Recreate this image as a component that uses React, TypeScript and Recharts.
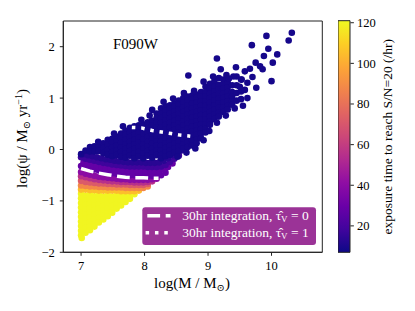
import { ScatterChart, Scatter, XAxis, YAxis, ReferenceArea, BarChart, Bar } from "recharts";

const SERIF = "'Liberation Serif', 'DejaVu Serif', serif";

type Pt = [number, number];

// log(M), log(psi), grouped by exposure time (hr)
const tail120: Pt[] = [
  [7.00, -0.86], [7.00, -0.95], [7.00, -1.04], [7.00, -1.13], [7.00, -1.22], [7.00, -1.31], [7.00, -1.40], [7.00, -1.49], [7.00, -1.58], [7.00, -1.67], [7.01, -1.72],
  [7.07, -0.90], [7.07, -0.99], [7.07, -1.08], [7.07, -1.17], [7.07, -1.26], [7.07, -1.35], [7.07, -1.44], [7.07, -1.53], [7.07, -1.62],
  [7.14, -0.87], [7.14, -0.96], [7.14, -1.05], [7.14, -1.14], [7.14, -1.23], [7.14, -1.32], [7.14, -1.41], [7.14, -1.50], [7.14, -1.57],
  [7.21, -0.91], [7.21, -1.00], [7.21, -1.09], [7.21, -1.18], [7.21, -1.27], [7.21, -1.36], [7.21, -1.45], [7.21, -1.50],
  [7.28, -0.88], [7.28, -0.97], [7.28, -1.06], [7.28, -1.15], [7.28, -1.24], [7.28, -1.33], [7.28, -1.42],
  [7.35, -0.92], [7.35, -1.01], [7.35, -1.10], [7.35, -1.19], [7.35, -1.28], [7.35, -1.36],
  [7.42, -0.88], [7.42, -0.97], [7.42, -1.06], [7.42, -1.15], [7.42, -1.24], [7.42, -1.30],
  [7.49, -0.92], [7.49, -1.01], [7.49, -1.10], [7.49, -1.19], [7.49, -1.23],
  [7.56, -0.88], [7.56, -0.97], [7.56, -1.06], [7.56, -1.15],
  [7.63, -0.92], [7.63, -1.01], [7.63, -1.09],
  [7.70, -0.88], [7.70, -0.97], [7.70, -1.02],
  [7.77, -0.90], [7.77, -0.96],
  [7.84, -0.87],
];

const band105: Pt[] = [
  [7.00, -0.78], [7.07, -0.78], [7.14, -0.79], [7.21, -0.79], [7.28, -0.80], [7.35, -0.80], [7.42, -0.80],
  [7.49, -0.80], [7.56, -0.80], [7.63, -0.81], [7.70, -0.81], [7.77, -0.81], [7.84, -0.81], [7.91, -0.80],
];

const band88: Pt[] = [
  [7.00, -0.70], [7.07, -0.71], [7.14, -0.72], [7.21, -0.72], [7.28, -0.73], [7.35, -0.73], [7.42, -0.74], [7.49, -0.74],
  [7.56, -0.74], [7.63, -0.74], [7.70, -0.75], [7.77, -0.75], [7.84, -0.75], [7.91, -0.75], [7.98, -0.75], [8.05, -0.72],
];

const band72: Pt[] = [
  [7.00, -0.61], [7.07, -0.63], [7.14, -0.64], [7.21, -0.65], [7.28, -0.66], [7.35, -0.66], [7.42, -0.67], [7.49, -0.67],
  [7.56, -0.68], [7.63, -0.68], [7.70, -0.68], [7.77, -0.69], [7.84, -0.69], [7.91, -0.69], [7.98, -0.69], [8.05, -0.67],
];

const band55: Pt[] = [
  [7.00, -0.52], [7.07, -0.54], [7.14, -0.56], [7.21, -0.58], [7.28, -0.59], [7.35, -0.60], [7.42, -0.61], [7.49, -0.62], [7.56, -0.62],
  [7.63, -0.63], [7.70, -0.63], [7.77, -0.63], [7.84, -0.64], [7.91, -0.64], [7.98, -0.64], [8.05, -0.63], [8.12, -0.62],
];

const band40: Pt[] = [
  [7.00, -0.44], [7.07, -0.47], [7.14, -0.49], [7.21, -0.51], [7.28, -0.53], [7.35, -0.54], [7.42, -0.55], [7.49, -0.56], [7.56, -0.57],
  [7.63, -0.58], [7.70, -0.58], [7.77, -0.59], [7.84, -0.59], [7.91, -0.59], [7.98, -0.59], [8.05, -0.59], [8.12, -0.58], [8.19, -0.57],
];

const band28: Pt[] = [
  [7.00, -0.32], [7.07, -0.35], [7.14, -0.37], [7.21, -0.39], [7.28, -0.41], [7.35, -0.43], [7.42, -0.44], [7.49, -0.46], [7.56, -0.47], [7.63, -0.48],
  [7.70, -0.49], [7.77, -0.50], [7.84, -0.50], [7.91, -0.50], [7.98, -0.50], [8.05, -0.51], [8.12, -0.51], [8.19, -0.51], [8.26, -0.50], [8.33, -0.45],
  [7.04, -0.25], [7.11, -0.28], [7.18, -0.30], [7.25, -0.32], [7.32, -0.34], [7.39, -0.36], [7.46, -0.37], [7.53, -0.39], [7.60, -0.40], [7.67, -0.41],
  [7.74, -0.42], [7.81, -0.42], [7.88, -0.42], [7.95, -0.42], [8.02, -0.43], [8.09, -0.43], [8.16, -0.43], [8.23, -0.42], [8.30, -0.39], [8.37, -0.34], [8.44, -0.27],
];

const band18: Pt[] = [
  [7.00, -0.15], [7.07, -0.18], [7.14, -0.20], [7.21, -0.22], [7.28, -0.24], [7.35, -0.26], [7.42, -0.27], [7.49, -0.29], [7.56, -0.30], [7.63, -0.31], [7.70, -0.32], [7.77, -0.33],
  [7.84, -0.33], [7.91, -0.33], [7.98, -0.33], [8.05, -0.34], [8.12, -0.34], [8.19, -0.34], [8.26, -0.33], [8.33, -0.30], [8.40, -0.24], [8.47, -0.18], [8.54, -0.12],
];

const band13: Pt[] = [
  [7.04, -0.09], [7.11, -0.11], [7.18, -0.13], [7.25, -0.15], [7.32, -0.17], [7.39, -0.19], [7.46, -0.20], [7.53, -0.22], [7.60, -0.23], [7.67, -0.24], [7.74, -0.25], [7.81, -0.25],
  [7.88, -0.25], [7.95, -0.25], [8.02, -0.26], [8.09, -0.26], [8.16, -0.26], [8.23, -0.25], [8.30, -0.22], [8.37, -0.17], [8.44, -0.11], [8.51, -0.06], [8.58, -0.02],
];

const core9: Pt[] = [
  [7.00, -0.09], [7.07, -0.02], [7.14, 0.05], [7.14, -0.04], [7.21, 0.06], [7.21, -0.04], [7.28, 0.08], [7.28, -0.03],
  [7.35, 0.12], [7.35, 0.03], [7.35, -0.07],
  [7.42, 0.19], [7.42, 0.09], [7.42, -0.01], [7.42, -0.10],
  [7.49, 0.21], [7.49, 0.13], [7.49, 0.04], [7.49, -0.05], [7.49, -0.13],
  [7.56, 0.25], [7.56, 0.16], [7.56, 0.07], [7.56, -0.02], [7.56, -0.11],
  [7.63, 0.31], [7.63, 0.22], [7.63, 0.13], [7.63, 0.04], [7.63, -0.05], [7.63, -0.14],
  [7.70, 0.37], [7.70, 0.28], [7.70, 0.19], [7.70, 0.10], [7.70, 0.01], [7.70, -0.08], [7.70, -0.16],
  [7.77, 0.42], [7.77, 0.33], [7.77, 0.24], [7.77, 0.15], [7.77, 0.06], [7.77, -0.03], [7.77, -0.12],
  [7.84, 0.45], [7.84, 0.37], [7.84, 0.28], [7.84, 0.19], [7.84, 0.10], [7.84, 0.01], [7.84, -0.08], [7.84, -0.17],
  [7.91, 0.47], [7.91, 0.41], [7.91, 0.32], [7.91, 0.23], [7.91, 0.14], [7.91, 0.05], [7.91, -0.04], [7.91, -0.13],
  [7.98, 0.49], [7.98, 0.37], [7.98, 0.28], [7.98, 0.19], [7.98, 0.10], [7.98, 0.01], [7.98, -0.08], [7.98, -0.17],
  [8.05, 0.53], [8.05, 0.42], [8.05, 0.33], [8.05, 0.24], [8.05, 0.15], [8.05, 0.06], [8.05, -0.03], [8.05, -0.12],
  [8.12, 0.77], [8.12, 0.56], [8.12, 0.47], [8.12, 0.38], [8.12, 0.29], [8.12, 0.20], [8.12, 0.11], [8.12, 0.02], [8.12, -0.07], [8.12, -0.16],
  [8.19, 0.70], [8.19, 0.61], [8.19, 0.52], [8.19, 0.43], [8.19, 0.34], [8.19, 0.25], [8.19, 0.16], [8.19, 0.07], [8.19, -0.02], [8.19, -0.11],
  [8.26, 0.80], [8.26, 0.70], [8.26, 0.61], [8.26, 0.52], [8.26, 0.43], [8.26, 0.34], [8.26, 0.25], [8.26, 0.16], [8.26, 0.07], [8.26, -0.02], [8.26, -0.11], [8.26, -0.17],
  [8.33, 0.84], [8.33, 0.75], [8.33, 0.66], [8.33, 0.57], [8.33, 0.48], [8.33, 0.39], [8.33, 0.30], [8.33, 0.21], [8.33, 0.12], [8.33, 0.03], [8.33, -0.06], [8.33, -0.13],
  [8.40, 0.86], [8.40, 0.79], [8.40, 0.70], [8.40, 0.61], [8.40, 0.52], [8.40, 0.43], [8.40, 0.34], [8.40, 0.25], [8.40, 0.16], [8.40, 0.07], [8.40, -0.02], [8.40, -0.10],
  [8.47, 0.90], [8.47, 0.83], [8.47, 0.74], [8.47, 0.65], [8.47, 0.56], [8.47, 0.47], [8.47, 0.38], [8.47, 0.29], [8.47, 0.20], [8.47, 0.11], [8.47, 0.02], [8.47, -0.06],
  [8.54, 0.95], [8.54, 0.87], [8.54, 0.78], [8.54, 0.69], [8.54, 0.60], [8.54, 0.51], [8.54, 0.42], [8.54, 0.33], [8.54, 0.24], [8.54, 0.15], [8.54, 0.06], [8.54, -0.03],
  [8.61, 1.00], [8.61, 0.91], [8.61, 0.82], [8.61, 0.73], [8.61, 0.64], [8.61, 0.55], [8.61, 0.46], [8.61, 0.37], [8.61, 0.28], [8.61, 0.19], [8.61, 0.10], [8.61, 0.02],
  [8.68, 1.03], [8.68, 0.95], [8.68, 0.86], [8.68, 0.77], [8.68, 0.68], [8.68, 0.59], [8.68, 0.50], [8.68, 0.41], [8.68, 0.32], [8.68, 0.23], [8.68, 0.14], [8.68, 0.05],
  [8.75, 1.05], [8.75, 0.98], [8.75, 0.89], [8.75, 0.80], [8.75, 0.71], [8.75, 0.62], [8.75, 0.53], [8.75, 0.44], [8.75, 0.35], [8.75, 0.26], [8.75, 0.17], [8.75, 0.08],
  [8.82, 1.07], [8.82, 1.00], [8.82, 0.91], [8.82, 0.82], [8.82, 0.73], [8.82, 0.64], [8.82, 0.55], [8.82, 0.46], [8.82, 0.37], [8.82, 0.28], [8.82, 0.19], [8.82, 0.12],
  [8.89, 1.12], [8.89, 1.03], [8.89, 0.94], [8.89, 0.85], [8.89, 0.76], [8.89, 0.67], [8.89, 0.58], [8.89, 0.49], [8.89, 0.40], [8.89, 0.31], [8.89, 0.22],
  [8.96, 1.22], [8.96, 1.12], [8.96, 1.03], [8.96, 0.94], [8.96, 0.85], [8.96, 0.76], [8.96, 0.67], [8.96, 0.58], [8.96, 0.49], [8.96, 0.40], [8.96, 0.33],
  [9.03, 1.28], [9.03, 1.18], [9.03, 1.09], [9.03, 1.00], [9.03, 0.91], [9.03, 0.82], [9.03, 0.73], [9.03, 0.64], [9.03, 0.55], [9.03, 0.48],
  [9.10, 1.33], [9.10, 1.22], [9.10, 1.13], [9.10, 1.04], [9.10, 0.95], [9.10, 0.86], [9.10, 0.77], [9.10, 0.68], [9.10, 0.59],
  [9.17, 1.39], [9.17, 1.26], [9.17, 1.17], [9.17, 1.08], [9.17, 0.99], [9.17, 0.90], [9.17, 0.81], [9.17, 0.72], [9.17, 0.64],
  [9.24, 1.36], [9.24, 1.27], [9.24, 1.18], [9.24, 1.09], [9.24, 1.00], [9.24, 0.91], [9.24, 0.82], [9.24, 0.73],
  [9.31, 1.30], [9.31, 1.21], [9.31, 1.12], [9.31, 1.03], [9.31, 0.94], [9.31, 0.85], [9.31, 0.78],
  [9.38, 1.25], [9.38, 1.12], [9.38, 1.03], [9.38, 0.94], [9.38, 0.87],
  [9.45, 1.42], [9.45, 1.25], [9.45, 1.10], [9.45, 0.95],
  [9.52, 1.36], [9.52, 1.13], [9.52, 0.98],
];

const sparse9: Pt[] = [
  [8.69, 1.44], [9.14, 1.77], [9.20, 1.56], [9.29, 1.45], [9.44, 1.60], [9.58, 1.52], [9.66, 1.57], [9.70, 1.41],
  [9.75, 1.69], [9.82, 1.62], [9.86, 1.56], [9.88, 1.82], [9.69, 2.03], [9.92, 2.21], [9.95, 1.96], [10.02, 1.69],
  [10.09, 1.85], [10.27, 2.12], [10.32, 2.27], [10.00, 1.33], [9.76, 1.20], [9.58, 1.16], [9.40, 1.42], [9.53, 1.36],
  [9.62, 1.00], [9.55, 0.85], [9.50, 1.22], [9.62, 1.30],
  [7.27, 0.15], [7.52, 0.31], [7.66, 0.45], [7.95, 0.58], [8.08, 0.66], [8.30, 0.93], [8.45, 0.99], [8.62, 1.10],
  [8.78, 1.14], [8.93, 1.32], [9.08, 1.42], [9.33, 1.38],
  [8.52, -0.14], [8.66, -0.06], [8.80, 0.02], [8.93, 0.18], [9.02, 0.36], [9.14, 0.52], [9.28, 0.66], [9.42, 0.80],
];

// 30 hr detection curves
const tau0Line: Pt[] = [[7.00, -0.37], [7.14, -0.42], [7.28, -0.46], [7.42, -0.49], [7.56, -0.52], [7.70, -0.54], [7.84, -0.55], [7.98, -0.55], [8.12, -0.56], [8.22, -0.56]];
const tau1Line: Pt[] = [[7.80, 0.43], [7.95, 0.42], [8.12, 0.37], [8.27, 0.34], [8.42, 0.31], [8.56, 0.28], [8.72, 0.26]];

const xTicks = [7, 8, 9, 10];
const yTicks = [-2, -1, 0, 1, 2];
const cbTicks = [20, 40, 60, 80, 100, 120];
const T_MIN = 7;
const T_MAX = 121;

const bands: { t: number; pts: Pt[] }[] = [
  { t: 120, pts: tail120 },
  { t: 105, pts: band105 },
  { t: 88, pts: band88 },
  { t: 72, pts: band72 },
  { t: 55, pts: band55 },
  { t: 40, pts: band40 },
  { t: 28, pts: band28 },
  { t: 18, pts: band18 },
  { t: 13, pts: band13 },
  { t: 9, pts: core9 },
  { t: 9, pts: sparse9 },
];

const plasmaStops = ["#0d0887", "#41049d", "#6a00a8", "#8f0da4", "#b12a90", "#cc4778", "#e16462", "#f2844b", "#fca636", "#fcce25", "#f0f921"];

function hexRgb(h: string) {
  return [1, 3, 5].map(i => parseInt(h.slice(i, i + 2), 16));
}

function plasma(t: number) {
  const u = Math.min(1, Math.max(0, (t - T_MIN) / (T_MAX - T_MIN))) * 10;
  const i = Math.min(9, Math.floor(u));
  const f = u - i;
  const a = hexRgb(plasmaStops[i]);
  const b = hexRgb(plasmaStops[i + 1]);
  const c = a.map((v, k) => Math.round(v + (b[k] - v) * f));
  return `rgb(${c[0]},${c[1]},${c[2]})`;
}

const toRows = (pts: Pt[]) => pts.map(([m, s]) => ({ m, s }));
const fmt = (v: number) => (v < 0 ? "\u2212" + Math.abs(v) : String(v));

const Dot = (p: any) => <circle cx={p.cx} cy={p.cy} r={3.3} fill={p.fill} />;
const NoDot = () => <g />;

const tickStyle = { fill: "#000", fontSize: 12.5, fontFamily: SERIF };

export default function App() {
  return (
    <div style={{ position: "absolute", left: 0, top: 0, width: 415, height: 311, background: "#fff" }}>
      <ScatterChart width={415} height={311} margin={{ top: 21, right: 92.7, bottom: 28.7, left: 18.3 }}>
        <XAxis type="number" dataKey="m" domain={[6.72, 10.8]} ticks={xTicks} allowDataOverflow height={30}
          stroke="#222" tickSize={3.5} tickMargin={5} tick={tickStyle} />
        <YAxis type="number" dataKey="s" domain={[-2, 2.5]} ticks={yTicks} allowDataOverflow width={45}
          stroke="#222" tickSize={3.5} tickMargin={5} tick={tickStyle} tickFormatter={fmt} />
        <ReferenceArea x1={6.72} x2={10.8} y1={-2} y2={2.5} fill="none" stroke="#222" strokeWidth={1} ifOverflow="visible" />
        {bands.map((b, i) => (
          <Scatter key={i} data={toRows(b.pts)} fill={plasma(b.t)} shape={Dot} isAnimationActive={false} />
        ))}
        <Scatter data={toRows(tau0Line)} shape={NoDot} isAnimationActive={false}
          line={{ stroke: "#fff", strokeWidth: 3.5, strokeDasharray: "12.8 5.6" }} />
        <Scatter data={toRows(tau1Line)} shape={NoDot} isAnimationActive={false}
          line={{ stroke: "#fff", strokeWidth: 3.5, strokeDasharray: "3.5 5.85" }} />
      </ScatterChart>

      <div style={{ position: "absolute", left: 338.3, top: 0 }}>
        <BarChart width={60} height={311} data={[{ name: "cb", range: [T_MIN, T_MAX] }]}
          margin={{ top: 20.7, right: 0, bottom: 58.7, left: 0 }} barCategoryGap={0}>
          <defs>
            <linearGradient id="cbGrad" x1="0" y1="1" x2="0" y2="0">
              {plasmaStops.map((c, i) => (
                <stop key={i} offset={`${i * 10}%`} stopColor={c} />
              ))}
            </linearGradient>
          </defs>
          <XAxis dataKey="name" hide />
          <YAxis orientation="right" type="number" domain={[T_MIN, T_MAX]} ticks={cbTicks} width={47.6}
            axisLine={false} stroke="#222" tickSize={3.5} tickMargin={3} tick={tickStyle} />
          <Bar dataKey="range" fill="url(#cbGrad)" stroke="#222" strokeWidth={1} isAnimationActive={false} />
        </BarChart>
      </div>

      <svg width={415} height={311} style={{ position: "absolute", left: 0, top: 0, pointerEvents: "none" }} fontFamily={SERIF}>
        <text x={113} y={48.5} fontSize={15} fill="#000">F090W</text>

        <text x={192} y={288} fontSize={15} textAnchor="middle" fill="#000">
          log(M / M<tspan dy={3} fontSize={10}>⊙</tspan><tspan dy={-3}>)</tspan>
        </text>

        <text transform="translate(27,138.5) rotate(-90)" fontSize={15} textAnchor="middle" fill="#000">
          log(ψ / M<tspan dy={3} fontSize={10}>⊙</tspan><tspan dy={-3}> yr</tspan>
          <tspan dy={-5} fontSize={10}>−1</tspan><tspan dy={5}>)</tspan>
        </text>

        <text transform="translate(392,136.7) rotate(-90)" fontSize={13.5} textAnchor="middle" fill="#000">
          exposure time to reach S/N=20 (/hr)
        </text>

        <rect x={142.3} y={207.3} width={173.7} height={37.7} rx={3} fill="#9b3397" />
        <line x1={147.3} x2={170.5} y1={215.7} y2={215.7} stroke="#fff" strokeWidth={3.5} strokeDasharray="12.8 5.6" />
        <line x1={145.6} x2={170.5} y1={232.7} y2={232.7} stroke="#fff" strokeWidth={3.5} strokeDasharray="3.5 5.85" />
        <text x={182.3} y={219.8} fontSize={13.5} fill="#fff">
          30hr integration, τ̂<tspan dy={2.5} fontSize={9}>V</tspan><tspan dy={-2.5}> = 0</tspan>
        </text>
        <text x={182.3} y={236.8} fontSize={13.5} fill="#fff">
          30hr integration, τ̂<tspan dy={2.5} fontSize={9}>V</tspan><tspan dy={-2.5}> = 1</tspan>
        </text>
      </svg>
    </div>
  );
}
